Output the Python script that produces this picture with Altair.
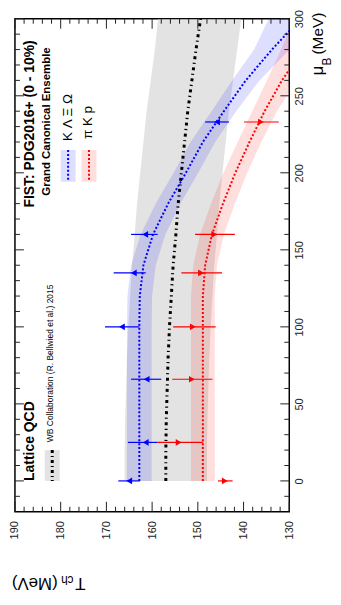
import altair as alt
import pandas as pd

# ---------------- data ----------------
mu_grid = [0, 20, 40, 60, 80, 100, 120, 140, 160, 180, 200, 220, 240, 260, 280, 300]

# Lattice QCD (WB collaboration) band and central line
lqcd_T  = [157.0, 157.0, 156.9, 156.7, 156.5, 156.2, 155.8, 155.4, 154.8, 154.3, 153.6, 152.9, 152.2, 151.3, 150.4, 149.4]
lqcd_lo = [148.0, 148.0, 147.9, 147.7, 147.5, 147.2, 146.8, 146.4, 145.8, 145.3, 144.6, 143.9, 143.2, 142.3, 141.4, 140.5]
lqcd_hi = [166.0, 166.0, 165.9, 165.7, 165.5, 165.2, 164.8, 164.4, 163.8, 163.3, 162.6, 161.9, 161.2, 160.3, 159.4, 158.7]

# K Lambda Xi Omega
strange_T  = [162.8, 162.8, 162.8, 162.8, 162.8, 162.8, 162.7, 161.9, 159.8, 156.5, 152.6, 148.9, 144.3, 139.5, 133.8, 127.5]
strange_lo = [160.1, 160.1, 160.1, 160.1, 160.1, 160.1, 160.0, 159.2, 157.1, 153.8, 149.9, 146.2, 141.6, 136.5, 129.9, 120.5]
strange_hi = [165.5, 165.5, 165.5, 165.5, 165.5, 165.5, 165.4, 164.6, 162.5, 159.2, 155.3, 151.6, 147.0, 142.5, 137.7, 134.5]

# pi K p
light_T  = [148.9, 148.9, 148.9, 148.9, 148.9, 148.9, 148.9, 148.4, 146.9, 144.5, 141.8, 138.7, 135.4, 131.6, 127.0, 122.0]
light_lo = [146.3, 146.3, 146.3, 146.3, 146.3, 146.3, 146.3, 145.8, 144.3, 141.9, 139.2, 136.1, 132.7, 128.3, 122.2, 115.0]
light_hi = [151.5, 151.5, 151.5, 151.5, 151.5, 151.5, 151.5, 151.0, 149.5, 147.1, 144.4, 141.3, 138.1, 134.9, 131.8, 129.0]

# points with error bars
pts_mu = [0, 25, 66, 100, 135, 160, 233]
strange_pt    = [165.0, 161.4, 161.2, 166.6, 164.0, 161.5, 145.8]
strange_pt_lo = [162.7, 158.8, 158.0, 162.8, 161.4, 158.8, 143.2]
strange_pt_hi = [167.4, 165.3, 164.6, 170.3, 168.4, 164.6, 148.4]
light_pt    = [144.1, 154.2, 151.3, 151.1, 149.3, 146.4, 136.2]
light_pt_lo = [142.4, 148.9, 146.8, 146.1, 144.7, 141.9, 132.3]
light_pt_hi = [145.6, 158.8, 155.6, 155.4, 153.6, 150.6, 139.9]

# axis ticks
T_major = [190, 180, 170, 160, 150, 140, 130]
T_minor = [188, 186, 184, 182, 178, 176, 174, 172, 168, 166, 164, 162, 158, 156, 154, 152,
           148, 146, 144, 142, 138, 136, 134, 132]
mu_major = [0, 50, 100, 150, 200, 250, 300]
mu_minor = [-10, 10, 20, 30, 40, 60, 70, 80, 90, 110, 120, 130, 140, 160, 170, 180, 190,
            210, 220, 230, 240, 260, 270, 280, 290]

# ---------------- layout / style ----------------
W, H = 276, 496
FONT = "Liberation Sans"
BLUE, RED = "#0000ff", "#ff0000"

xs = alt.Scale(domain=[130, 190], reverse=True, nice=False, zero=False)
ys = alt.Scale(domain=[-20, 300], nice=False, zero=False)

curves = pd.DataFrame({
    "mu": mu_grid,
    "lq": lqcd_T, "lq_lo": lqcd_lo, "lq_hi": lqcd_hi,
    "s": strange_T, "s_lo": strange_lo, "s_hi": strange_hi,
    "l": light_T, "l_lo": light_lo, "l_hi": light_hi,
})
pts = pd.DataFrame({
    "mu": pts_mu,
    "s": strange_pt, "s_lo": strange_pt_lo, "s_hi": strange_pt_hi,
    "l": light_pt, "l_lo": light_pt_lo, "l_hi": light_pt_hi,
})

x_axis = alt.Axis(values=T_major, labelAngle=270, labelAlign="right", labelBaseline="middle",
                  labelPadding=9, ticks=False, domain=False, grid=False, labelFlush=False,
                  labelOverlap=False, labelFontSize=11, labelFont=FONT, labelColor="#222")
y_axis = alt.Axis(orient="right", values=mu_major, labelAngle=270, labelAlign="center",
                  labelBaseline="top", labelPadding=4, ticks=False, domain=False, grid=False,
                  labelFlush=False, labelOverlap=False, labelFontSize=11, labelFont=FONT,
                  labelColor="#222")

base = alt.Chart(curves)


def X(f):
    return alt.X(f, type="quantitative", scale=xs, axis=x_axis, title=None)


def Y(f):
    return alt.Y(f, type="quantitative", scale=ys, axis=y_axis, title=None)


layers = []
# bands
layers.append(base.mark_area(orient="horizontal", color="#cccccc", opacity=0.55, clip=True).encode(
    y=Y("mu"), x=X("lq_lo"), x2="lq_hi"))
layers.append(base.mark_area(orient="horizontal", color=BLUE, opacity=0.13, clip=True).encode(
    y=Y("mu"), x=X("s_lo"), x2="s_hi"))
layers.append(base.mark_area(orient="horizontal", color=RED, opacity=0.13, clip=True).encode(
    y=Y("mu"), x=X("l_lo"), x2="l_hi"))
# lines
layers.append(base.mark_line(color="black", strokeWidth=3, strokeDash=[3, 3.5, 1.2, 3.5], clip=True).encode(
    y=Y("mu"), x=X("lq"), order=alt.Order("mu:Q")))
layers.append(base.mark_line(color=BLUE, strokeWidth=2, strokeDash=[2, 2], clip=True).encode(
    y=Y("mu"), x=X("s"), order=alt.Order("mu:Q")))
layers.append(base.mark_line(color=RED, strokeWidth=2, strokeDash=[2, 2], clip=True).encode(
    y=Y("mu"), x=X("l"), order=alt.Order("mu:Q")))
# error bars and markers
pbase = alt.Chart(pts)
layers.append(pbase.mark_rule(color=BLUE, strokeWidth=1.2).encode(y=Y("mu"), x=X("s_lo"), x2="s_hi"))
layers.append(pbase.mark_rule(color=RED, strokeWidth=1.2).encode(y=Y("mu"), x=X("l_lo"), x2="l_hi"))
layers.append(pbase.mark_point(shape="triangle-left", filled=True, size=45, color=BLUE, opacity=1).encode(
    y=Y("mu"), x=X("s")))
layers.append(pbase.mark_point(shape="triangle-right", filled=True, size=45, color=RED, opacity=1).encode(
    y=Y("mu"), x=X("l")))

# inward ticks
tmaj = alt.Chart(pd.DataFrame({"t": T_major}))
tmin = alt.Chart(pd.DataFrame({"t": T_minor}))
mmaj = alt.Chart(pd.DataFrame({"m": mu_major}))
mmin = alt.Chart(pd.DataFrame({"m": mu_minor}))
TK = dict(color="#222", strokeWidth=1)
for src, L in ((tmaj, 10), (tmin, 5)):
    layers.append(src.mark_rule(**TK).encode(x=X("t"), y=alt.value(H), y2=alt.value(H - L)))
    layers.append(src.mark_rule(**TK).encode(x=X("t"), y=alt.value(0), y2=alt.value(L)))
for src, L in ((mmaj, 9), (mmin, 5)):
    layers.append(src.mark_rule(**TK).encode(y=Y("m"), x=alt.value(0), x2=alt.value(L)))
    layers.append(src.mark_rule(**TK).encode(y=Y("m"), x=alt.value(W), x2=alt.value(W - L)))

# annotations
one = alt.Chart(pd.DataFrame({"k": [0]}))


def txt(s, x, y, size, angle=270, weight="normal", align="left", baseline="alphabetic"):
    return one.mark_text(text=s, fontSize=size, angle=angle, fontWeight=weight, align=align,
                         baseline=baseline, font=FONT, color="black").encode(
        x=alt.value(x), y=alt.value(y))


def box(x1, x2, y1, y2, color, opacity):
    return one.mark_rect(color=color, opacity=opacity).encode(
        x=alt.value(x1), x2=alt.value(x2), y=alt.value(y1), y2=alt.value(y2))


def vline(x, y1, y2, color, width, dash):
    return one.mark_rule(color=color, strokeWidth=width, strokeDash=dash).encode(
        x=alt.value(x), y=alt.value(y1), y2=alt.value(y2))


layers += [
    txt("FIST: PDG2016+ (0 - 10%)", 19, 190, 14, weight="bold"),
    txt("Grand Canonical Ensemble", 35, 178, 11.5, weight="bold"),
    box(46, 61, 132, 164, BLUE, 0.13),
    vline(53.5, 132, 164, BLUE, 2, [2, 2]),
    txt("K \u039b \u039e \u03a9", 57.6, 123, 13.5),
    box(67, 82, 132, 164, RED, 0.13),
    vline(74.5, 132, 164, RED, 2, [2, 2]),
    txt("\u03c0 K p", 78, 121, 13.5),
    txt("Lattice QCD", 19, 465, 14, weight="bold"),
    box(30, 45, 434, 465, "#cccccc", 0.55),
    vline(37.5, 434, 465, "black", 3, [3, 3, 1, 3]),
    txt("WB Collaboration (R. Bellwied et al.) 2015", 38.5, 426, 8.5),
    # axis titles
    txt("T", 71, 563, 17, angle=180),
    txt("ch", 59, 561, 12, angle=180),
    txt("(MeV)", 43, 563, 17, angle=180),
    txt("\u03bc", 310, 57, 17),
    txt("B", 318, 47, 12),
    txt("(MeV)", 310, 36, 15.5),
]

chart = alt.layer(*layers).properties(
    width=W, height=H,
    padding={"left": 7, "top": 9, "right": 44, "bottom": 88},
    autosize=alt.AutoSizeParams(type="none"),
).configure_view(stroke="black", strokeWidth=1.5)

chart.save("out.html", embed_options={"renderer": "svg", "actions": False})
